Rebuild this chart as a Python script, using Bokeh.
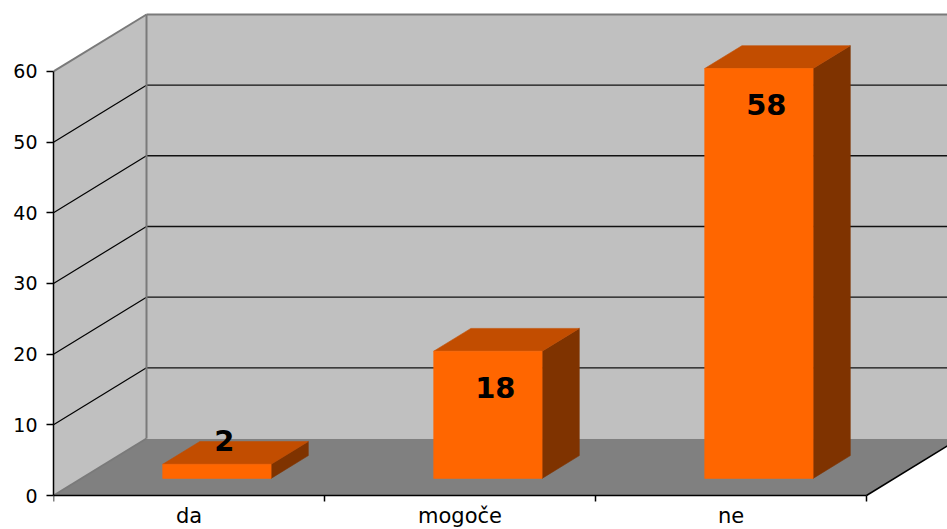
from bokeh.plotting import figure
from bokeh.models import Range1d, FixedTicker
from bokeh.embed import file_html
from bokeh.resources import INLINE
from bokeh.core.properties import value

# ---- data ----
categories = ["da", "mogoče", "ne"]
counts = [2, 18, 58]
y_ticks = [0, 10, 20, 30, 40, 50, 60]
y_max = 60

# ---- layout (pixel scales of the pseudo-3D projection) ----
W, H = 947, 529
LEFT = 53            # frame left border (px)
PX_CAT = 271.0       # px per category on the front plane
PX_UNIT = 7.067      # px per value unit on the front plane
ZERO_FROM_TOP = 495  # px from figure top to value 0 on front plane
DX = 93 / PX_CAT     # depth offset in category units
DY = 57 / PX_UNIT    # depth offset in value units
T1, T2 = 0.3, 0.7    # bar front / back depth fraction
BAR_L, BAR_R = 0.3, 0.7
n = len(categories)

FRONT = "#FF6600"
TOP = "#C24D00"
SIDE = "#7F3300"
WALL = "#C0C0C0"
FLOOR = "#808080"
EDGE = "#7A7A7A"

p = figure(width=W, height=H, output_backend="svg", toolbar_location=None,
           x_range=Range1d(0, (W - LEFT) / PX_CAT),
           y_range=Range1d(-(H - ZERO_FROM_TOP) / PX_UNIT, ZERO_FROM_TOP / PX_UNIT),
           x_axis_type=None)
p.min_border_left = LEFT
p.min_border_right = 0
p.min_border_top = 0
p.min_border_bottom = 0
p.grid.visible = False
p.outline_line_color = None
p.background_fill_color = "white"
p.border_fill_color = "white"

# floor and walls
p.patch([0, n, n + DX, DX], [0, 0, DY, DY], fill_color=FLOOR, line_color=None)
p.patch([0, DX, DX, 0], [0, DY, y_max + DY, y_max], fill_color=WALL, line_color=None)
p.patch([DX, n + DX + 1, n + DX + 1, DX], [DY, DY, y_max + DY, y_max + DY],
        fill_color=WALL, line_color=None)

# gridlines (side wall diagonals + back wall horizontals)
gv = [v for v in y_ticks if 0 < v < y_max]
p.segment(x0=[0] * len(gv), y0=gv, x1=[DX] * len(gv), y1=[v + DY for v in gv],
          line_color="black", line_width=1.2)
p.segment(x0=[DX] * len(gv), y0=[v + DY for v in gv], x1=[n + DX + 1] * len(gv),
          y1=[v + DY for v in gv], line_color="#111111", line_width=1.4)

# wall edges
p.segment(x0=[0, DX, DX, 0], y0=[y_max, y_max + DY, DY, 0],
          x1=[DX, n + DX + 1, DX, DX], y1=[y_max + DY, y_max + DY, y_max + DY, DY],
          line_color=EDGE, line_width=2)
p.segment(x0=[n], y0=[0], x1=[n + DX], y1=[DY], line_color="black", line_width=1.5)

# bars
fl = [i + BAR_L + T1 * DX for i in range(n)]
fr = [i + BAR_R + T1 * DX for i in range(n)]
fb = [T1 * DY] * n
ft = [v + T1 * DY for v in counts]
d = (T2 - T1)
top_xs = [[fl[i], fr[i], fr[i] + d * DX, fl[i] + d * DX] for i in range(n)]
top_ys = [[ft[i], ft[i], ft[i] + d * DY, ft[i] + d * DY] for i in range(n)]
side_xs = [[fr[i], fr[i] + d * DX, fr[i] + d * DX, fr[i]] for i in range(n)]
side_ys = [[fb[i], fb[i] + d * DY, ft[i] + d * DY, ft[i]] for i in range(n)]
p.patches(side_xs, side_ys, fill_color=SIDE, line_color=SIDE, line_width=0.6)
p.patches(top_xs, top_ys, fill_color=TOP, line_color=TOP, line_width=0.6)
p.quad(left=fl, right=fr, bottom=fb, top=ft, fill_color=FRONT, line_color=FRONT,
       line_width=0.6)

# data labels
LT = 0.38
lab_x = [i + 0.5 + LT * DX for i in range(n)]
lab_y = [(v - 5.8 if v >= 10 else v + 2.7) + LT * DY for v in counts]
p.text(x=lab_x, y=lab_y, text=[str(v) for v in counts],
       text_font=value("DejaVu Sans"), text_font_style="bold",
       text_font_size="29px", text_align="center", text_baseline="middle",
       text_color="black")

# x axis (drawn on the front plane)
tick_len = 6 / PX_UNIT
p.segment(x0=[0], y0=[0], x1=[n], y1=[0], line_color="black", line_width=1.6)
p.segment(x0=list(range(n + 1)), y0=[0] * (n + 1), x1=list(range(n + 1)),
          y1=[-tick_len] * (n + 1), line_color="black", line_width=1.5)
p.text(x=[i + 0.5 for i in range(n)], y=[-8 / PX_UNIT] * n, text=categories,
       text_font=value("DejaVu Sans"), text_font_size="21px",
       text_align="center", text_baseline="top", text_color="black")

# y axis
p.yaxis.ticker = FixedTicker(ticks=y_ticks)
p.yaxis.bounds = (0, y_max)
p.yaxis.major_tick_out = 7
p.yaxis.major_tick_in = 0
p.yaxis.minor_tick_line_color = None
p.yaxis.axis_line_color = "black"
p.yaxis.axis_line_width = 1.5
p.yaxis.major_tick_line_color = "black"
p.yaxis.major_tick_line_width = 1.5
p.yaxis.major_label_text_font = "DejaVu Sans"
p.yaxis.major_label_text_font_size = "19px"
p.yaxis.major_label_text_color = "black"
p.yaxis.major_label_standoff = 9

open("out.html", "w").write(file_html(p, INLINE))
